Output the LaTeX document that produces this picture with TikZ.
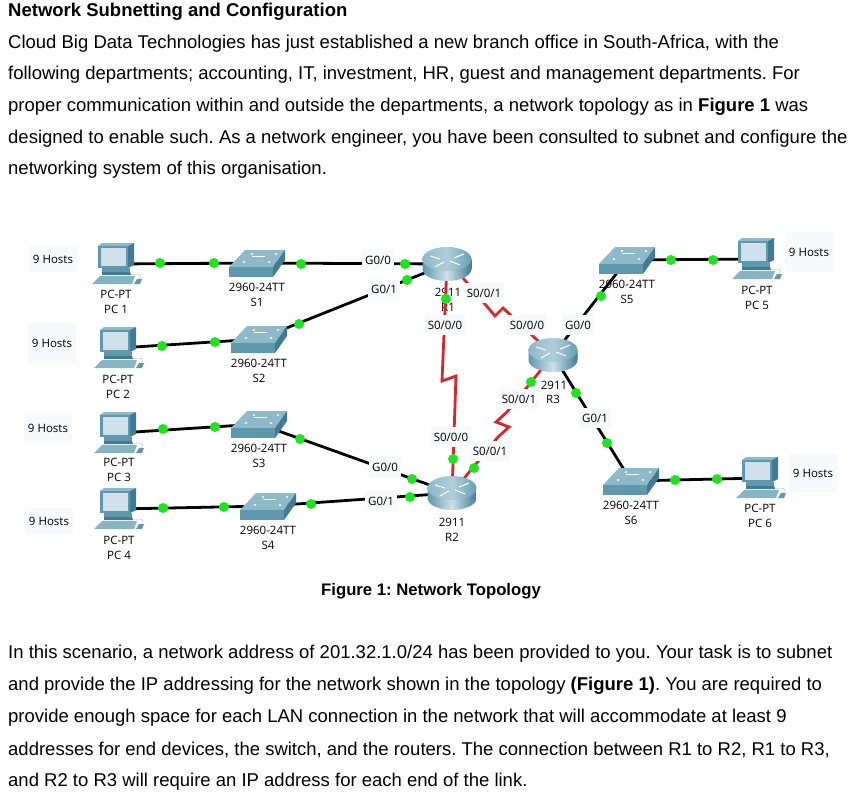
\documentclass[tikz,border=0pt]{standalone}
\usepackage{fontspec,xcolor}
\setmainfont{Liberation Sans}
\newfontfamily\ptfont{Open Sans}
\frenchspacing
\definecolor{ptdark}{HTML}{3F7C93}
\definecolor{ptmid}{HTML}{5F97AD}
\definecolor{ptlight}{HTML}{8DB9C9}
\definecolor{ptscreen}{HTML}{CFE0EA}
\definecolor{ptgreen}{HTML}{1DE51D}
\definecolor{ptred}{HTML}{D9262A}
\definecolor{lblbg}{HTML}{F8F9FC}
\usetikzlibrary{arrows.meta,positioning,calc}
\tikzset{
  pcicon/.pic={
    \fill[ptlight] (-19,-18) -- (-15,-21) -- (17,-21) -- (11,-18) -- cycle;
    \fill[ptdark] (11,-18) -- (17,-21) -- (17,1) -- (11,4) -- cycle;
    \fill[ptmid] (-19,-18) rectangle (11,4);
    \fill[ptscreen] (-16,-16) rectangle (9,2);
    \fill[ptmid] (-15,4) -- (13,4) -- (13,8) -- (-15,8) -- cycle;
    \fill[ptdark] (-15,8) -- (13,8) -- (14,11) -- (-15,11) -- cycle;
    \fill[ptlight!85!ptmid] (-25,20) -- (15,20) -- (18,12) -- (-17,12) -- cycle;
    \fill[ptmid] (17,20) -- (23,20) -- (25,15) -- (20,15) -- cycle;
    \draw[gray!50, thin] (22,15) .. controls (27,10) and (20,9) .. (14,11);
  },
  switchicon/.pic={
    \fill[ptlight] (-28,4) -- (16,4) -- (28,-13) -- (-12,-13) -- cycle;
    \fill[ptmid] (-28,4) rectangle (16,14);
    \fill[ptdark] (16,4) -- (28,-13) -- (28,-3) -- (16,14) -- cycle;
    \foreach \dx/\dy in {-13/-1,12/-1,-5/-9,19/-9}
      \fill[white] (\dx,\dy) ellipse (1.6 and 0.9);
    \draw[white, very thin] (-5,-7) -- (8,-7);
  },
  routericon/.pic={
    \shade[left color=ptmid, right color=ptdark, middle color=ptscreen]
      (-24.5,-5) -- (-24.5,5) arc[start angle=180, end angle=0, x radius=24.5, y radius=12] -- (24.5,-5) -- cycle;
    \shade[left color=ptlight, right color=ptmid!80!ptlight, middle color=ptlight!70!white] (0,-5) ellipse (24.5 and 12);
    \draw[white, line width=1.1pt] (-17,-8) -- (-7,-5) (17,-10) -- (7,-6) (-12,3) -- (-3,-2) (13,1) -- (3,-3);
  }
}
\begin{document}
\begin{tikzpicture}[x=1pt, y=-1pt,
    para/.style={anchor=west, inner sep=0pt, font=\fontsize{18.5}{22}\selectfont},
    hostlbl/.style={fill=lblbg, minimum width=48pt, minimum height=26pt, inner sep=0pt, font=\ptfont\fontsize{11.5}{13}\selectfont},
    portlbl/.style={fill=lblbg, inner xsep=3pt, inner ysep=6pt, font=\ptfont\fontsize{11.5}{13}\selectfont},
    devlbl/.style={inner sep=0pt, align=center, font=\ptfont\fontsize{11.5}{15.5}\selectfont},
    pcbox/.style={minimum width=24pt, minimum height=14pt, inner sep=0pt},
    swbox/.style={minimum width=30pt, minimum height=10pt, inner sep=0pt},
    rtbox/.style={minimum width=30pt, minimum height=20pt, inner sep=0pt},
    lan/.style={black, line width=2.8pt},
    wan/.style={ptred, line width=2.8pt},
    lnk/.style={circle, fill=ptgreen, minimum size=10pt, inner sep=0pt}
  ]
    \useasboundingbox (0,0) rectangle (859,808);

    % Text above the figure
    \node[para, font=\fontsize{18.5}{22}\selectfont\bfseries] (title) at (8,12) {Network Subnetting and Configuration};
    \node[para] (top1) at (8,44)  {Cloud Big Data Technologies has just established a new branch office in South-Africa, with the};
    \node[para] (top2) at (8,75)  {following departments; accounting, IT, investment, HR, guest and management departments. For};
    \node[para] (top3) at (8,107) {proper communication within and outside the departments, a network topology as in \textbf{Figure 1} was};
    \node[para] (top4) at (8,139) {designed to enable such. As a network engineer, you have been consulted to subnet and configure the};
    \node[para] (top5) at (8,170) {networking system of this organisation.};

    % Devices
    \node[pcbox] (pc1) at (117,264) {};
    \node[pcbox] (pc2) at (119,348) {};
    \node[pcbox] (pc3) at (119,433) {};
    \node[pcbox] (pc4) at (119,509) {};
    \node[pcbox] (pc5) at (757,259) {};
    \node[pcbox] (pc6) at (761,478) {};
    \node[swbox] (s1) at (257,263) {};
    \node[swbox] (s2) at (259,339) {};
    \node[swbox] (s3) at (259,424) {};
    \node[swbox] (s4) at (268,506) {};
    \node[swbox] (s5) at (627,260) {};
    \node[swbox] (s6) at (631,481) {};
    \node[rtbox] (r1) at (447,264) {};
    \node[rtbox] (r2) at (452,493) {};
    \node[rtbox] (r3) at (553,355) {};
    \coordinate (r1out) at (463,278);

    % Device names sit under the links
    \node[devlbl] (pc1lbl) at (116,302) {PC-PT\\PC 1};
    \node[devlbl] (pc2lbl) at (118,387) {PC-PT\\PC 2};
    \node[devlbl] (pc3lbl) at (119,470) {PC-PT\\PC 3};
    \node[devlbl] (pc4lbl) at (119,548) {PC-PT\\PC 4};
    \node[devlbl] (pc5lbl) at (757,298) {PC-PT\\PC 5};
    \node[devlbl] (pc6lbl) at (760,516) {PC-PT\\PC 6};
    \node[devlbl] (s1lbl) at (257,295) {2960-24TT\\S1};
    \node[devlbl] (s2lbl) at (259,371) {2960-24TT\\S2};
    \node[devlbl] (s3lbl) at (259,456) {2960-24TT\\S3};
    \node[devlbl] (s4lbl) at (268,538) {2960-24TT\\S4};
    \node[devlbl] (s5lbl) at (627,292) {2960-24TT\\S5};
    \node[devlbl] (s6lbl) at (631,513) {2960-24TT\\S6};
    \node[devlbl] (r1lbl) at (448,300) {2911\\R1};
    \node[devlbl] (r2lbl) at (452,530) {2911\\R2};
    \node[devlbl] (r3num) at (554,385) {2911};
    \node[devlbl] (r3lbl) at (553,399) {R3};

    % Links
    \draw[lan] (pc1) -- (s1);
    \draw[lan] (pc2) -- (s2);
    \draw[lan] (pc3) -- (s3);
    \draw[lan] (pc4) -- (s4);
    \draw[lan] (s1) -- (r1);
    \draw[lan] (s2) -- (r1);
    \draw[lan] (s3) -- (r2);
    \draw[lan] (s4) -- (r2);
    \draw[lan] (r3) -- (s5);
    \draw[lan] (r3) -- (s6);
    \draw[lan] (s5) -- (pc5);
    \draw[lan] (s6) -- (pc6);
    \draw[wan] (r1) -- (442,381) -- (456,376) -- (r2);
    \draw[wan] (r1out) -- (495,316) -- (503,308) -- (r3);
    \draw[wan] (r2) -- (498,437) -- (509,427) -- (496,422) -- (507,412) -- (r3);

    % Link lights
    \foreach \x/\y [count=\i] in {160/263,214/263,301/264,405/264,162/346,215/342,299/324,407/280,
      163/429,215/427,300/439,412/479,163/508,224/507,311/504,410/497,446/299,453/459,474/468,
      531/382,601/296,576/393,607/443,671/260,713/260,675/480,717/479}
      \node[lnk] (d\i) at (\x,\y) {};

    % Port labels
    \node[portlbl] (r1g0) at (378,260) {G0/0};
    \node[portlbl] (r1g1) at (384,289) {G0/1};
    \node[portlbl] (r1s0) at (445,325) {S0/0/0};
    \node[portlbl] (r1s1) at (484,293) {S0/0/1};
    \node[portlbl] (r3s0) at (527,325) {S0/0/0};
    \node[portlbl] (r3g0) at (578,325) {G0/0};
    \node[portlbl] (r3s1) at (519,399) {S0/0/1};
    \node[portlbl] (r3g1) at (595,418) {G0/1};
    \node[portlbl] (r2s0) at (451,437) {S0/0/0};
    \node[portlbl] (r2s1) at (490,451) {S0/0/1};
    \node[portlbl] (r2g0) at (385,467) {G0/0};
    \node[portlbl] (r2g1) at (381,501) {G0/1};

    \node[hostlbl] (h1) at (53,259) {9 Hosts};
    \node[hostlbl, minimum height=40pt] (h2) at (52,343) {9 Hosts};
    \node[hostlbl] (h3) at (48,428) {9 Hosts};
    \node[hostlbl] (h4) at (49,521) {9 Hosts};
    \node[hostlbl, minimum height=40pt] (h5) at (809,252) {9 Hosts};
    \node[hostlbl, minimum height=38pt] (h6) at (813,473) {9 Hosts};

    % Icons
    \foreach \nm in {pc1,pc2,pc3,pc4,pc5,pc6}
      \pic at (\nm) {pcicon};
    \foreach \nm in {s1,s2,s3,s4,s5,s6}
      \pic at (\nm) {switchicon};
    \foreach \nm in {r1,r2,r3}
      \pic at (\nm) {routericon};

    \node[inner sep=0pt, font=\fontsize{16.7}{20}\selectfont\bfseries] (cap) at (431,591) {Figure 1: Network Topology};

    % Text below the figure
    \node[para] (low1) at (8,654) {In this scenario, a network address of 201.32.1.0/24 has been provided to you. Your task is to subnet};
    \node[para] (low2) at (8,686) {and provide the IP addressing for the network shown in the topology \textbf{(Figure 1)}. You are required to};
    \node[para] (low3) at (8,718) {provide enough space for each LAN connection in the network that will accommodate at least 9};
    \node[para] (low4) at (8,750) {addresses for end devices, the switch, and the routers. The connection between R1 to R2, R1 to R3,};
    \node[para] (low5) at (8,782) {and R2 to R3 will require an IP address for each end of the link.};
  \end{tikzpicture}
\end{document}
